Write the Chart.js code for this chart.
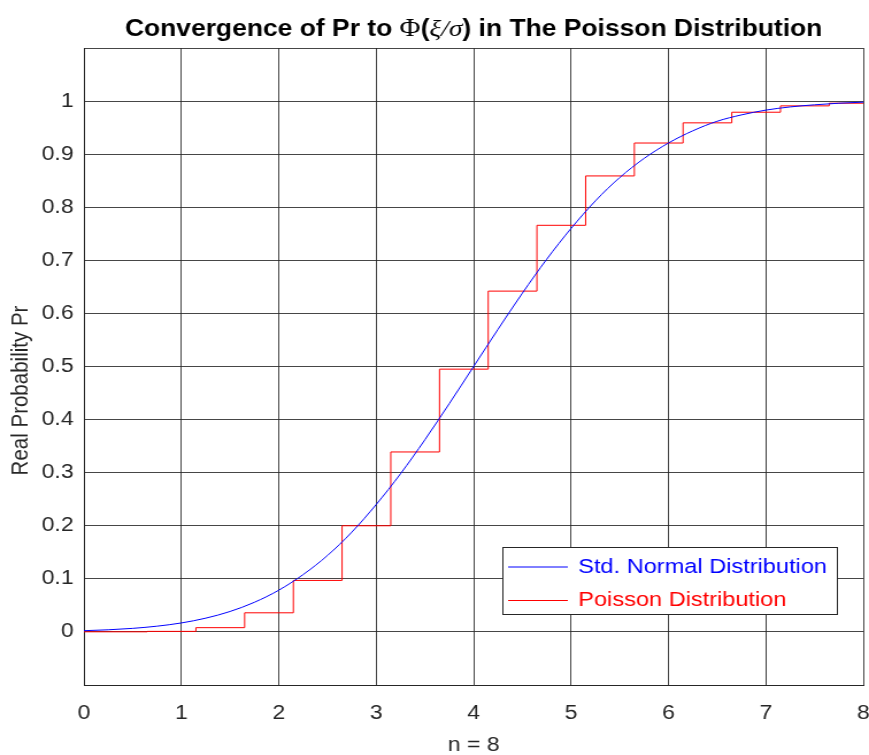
<!DOCTYPE html>
<html>
<head>
<meta charset="utf-8">
<title>Poisson convergence</title>
<script src="https://cdn.jsdelivr.net/npm/chart.js@4/dist/chart.umd.min.js"></script>
<style>
  html, body { margin: 0; padding: 0; background: #fff; overflow: hidden; }
  /* figure is drawn at 756 wide and widened to 869 */
  #wrap { width: 756px; height: 755px; position: relative; transform: scaleX(1.1495); transform-origin: 0 0; }
</style>
</head>
<body>
<div id="wrap"><canvas id="cdf"></canvas></div>
<script>
// standard normal CDF, sampled along the axis
const normX = [0, 0.25, 0.5, 0.75, 1, 1.25, 1.5, 1.75, 2, 2.25, 2.5, 2.75, 3, 3.25, 3.5, 3.75,
               4, 4.25, 4.5, 4.75, 5, 5.25, 5.5, 5.75, 6, 6.25, 6.5, 6.75, 7, 7.25, 7.5, 7.75, 8];
const normY = [0.0023, 0.0040, 0.0067, 0.0108, 0.0169, 0.0259, 0.0385, 0.0558, 0.0786, 0.108, 0.144, 0.188,
               0.240, 0.298, 0.362, 0.430, 0.500, 0.570, 0.638, 0.702, 0.760, 0.812, 0.856, 0.892,
               0.921, 0.944, 0.962, 0.974, 0.983, 0.989, 0.993, 0.996, 0.998];

// Poisson CDF, level holds from each x to the next
const poisX = [0, 0.65, 1.15, 1.65, 2.15, 2.65, 3.15, 3.65, 4.15, 4.65, 5.15, 5.65, 6.15, 6.65, 7.15, 7.65, 8];
const poisY = [0.0002, 0.001, 0.008, 0.036, 0.097, 0.200, 0.339, 0.495, 0.642, 0.766, 0.859, 0.921,
               0.959, 0.979, 0.991, 0.996, 0.996];

const xTicks = [0, 1, 2, 3, 4, 5, 6, 7, 8];
const yLabel = "Real Probability Pr";

const SANS = "'Liberation Sans', Arial, Helvetica, sans-serif";
const SERIF = "'Liberation Serif', 'Times New Roman', serif";
const INK = "#262626";

// title pieces: text in sans bold, math symbols in serif
const titleRuns = [
  ["Convergence of Pr to ", "bold 23px " + SANS],
  ["Φ", "25px " + SERIF],
  ["(", "bold 23px " + SANS],
  ["ξ/σ", "italic 24px " + SERIF],
  [")", "bold 23px " + SANS],
  [" in The Poisson Distribution", "bold 23px " + SANS]
];

const pts = (xs, ys) => xs.map((x, i) => ({x: x, y: ys[i]}));

const mixedTitle = {
  id: "mixedTitle",
  afterDraw(chart){
    const c = chart.ctx, a = chart.chartArea;
    c.save();
    c.fillStyle = "#000";
    c.textBaseline = "alphabetic";
    let total = 0;
    for (const [t, f] of titleRuns){ c.font = f; total += c.measureText(t).width; }
    let x = (a.left + a.right) / 2 - total / 2;
    for (const [t, f] of titleRuns){
      c.font = f;
      c.fillText(t, x, 36);
      x += c.measureText(t).width;
    }
    // y axis label, sitting a little below the axis middle
    c.translate(18.5, (a.top + a.bottom) / 2 + 24);
    c.rotate(-Math.PI / 2);
    c.font = "20.5px " + SANS;
    c.fillStyle = INK;
    c.textAlign = "center";
    c.textBaseline = "middle";
    c.fillText(yLabel, 0, 0);
    c.restore();
  }
};

// boxed legend in the lower right of the plot
const boxLegend = {
  id: "boxLegend",
  afterDraw(chart){
    const c = chart.ctx, a = chart.chartArea;
    const w = 291, h = 67;
    const x0 = a.right - 23 - w, y0 = a.bottom - 71 - h;
    c.save();
    c.fillStyle = "#fff";
    c.fillRect(x0, y0, w, h);
    c.strokeStyle = INK;
    c.lineWidth = 1;
    c.strokeRect(Math.round(x0) + 0.5, Math.round(y0) + 0.5, w, h);
    c.font = "20.5px " + SANS;
    c.textBaseline = "middle";
    chart.data.datasets.forEach((ds, i) => {
      const cy = Math.round(y0 + 20 + i * 33) + (i === 0 ? 0 : 0.5);
      c.strokeStyle = ds.borderColor;
      c.beginPath();
      c.moveTo(x0 + 5, cy);
      c.lineTo(x0 + 57, cy);
      c.stroke();
      c.fillStyle = ds.borderColor;
      c.fillText(ds.label, x0 + 66, cy);
    });
    c.restore();
  }
};

new Chart(document.getElementById("cdf"), {
  type: "line",
  data: {
    datasets: [
      {label: "Std. Normal Distribution", data: pts(normX, normY), borderColor: "#0000ff",
       borderWidth: 1, pointRadius: 0, cubicInterpolationMode: "monotone"},
      {label: "Poisson Distribution", data: pts(poisX, poisY), borderColor: "#ff0000",
       borderWidth: 1, pointRadius: 0, stepped: "before"}
    ]
  },
  options: {
    responsive: true,
    maintainAspectRatio: false,
    animation: false,
    layout: {padding: {left: 0, right: 5, top: 48, bottom: 0}},
    scales: {
      x: {
        type: "linear", min: 0, max: 8,
        afterBuildTicks: s => { s.ticks = xTicks.map(v => ({value: v})); },
        afterFit: s => { s.height = 70; s.paddingLeft = 0; s.paddingRight = 0; },
        grid: {color: "rgba(38,38,38,0.85)", drawTicks: false},
        border: {display: true, color: INK},
        ticks: {color: INK, font: {family: SANS, size: 20}, padding: 16, maxRotation: 0},
        title: {display: true, text: "n = 8", color: INK, font: {family: SANS, size: 20, lineHeight: 1},
                padding: {top: 0, bottom: 0}}
      },
      y: {
        type: "linear", min: -0.1, max: 1.1,
        afterFit: s => { s.width = 73; },
        grid: {color: "rgba(38,38,38,0.85)", drawTicks: false},
        border: {display: true, color: INK},
        ticks: {
          stepSize: 0.1, color: INK, font: {family: SANS, size: 20}, padding: 9,
          callback: v => (v < -0.01 || v > 1.01) ? "" : String(Math.round(v * 10) / 10)
        }
      }
    },
    plugins: {
      legend: {display: false},
      tooltip: {enabled: false},
      title: {display: false}
    }
  },
  plugins: [mixedTitle, boxLegend]
});
</script>
</body>
</html>
